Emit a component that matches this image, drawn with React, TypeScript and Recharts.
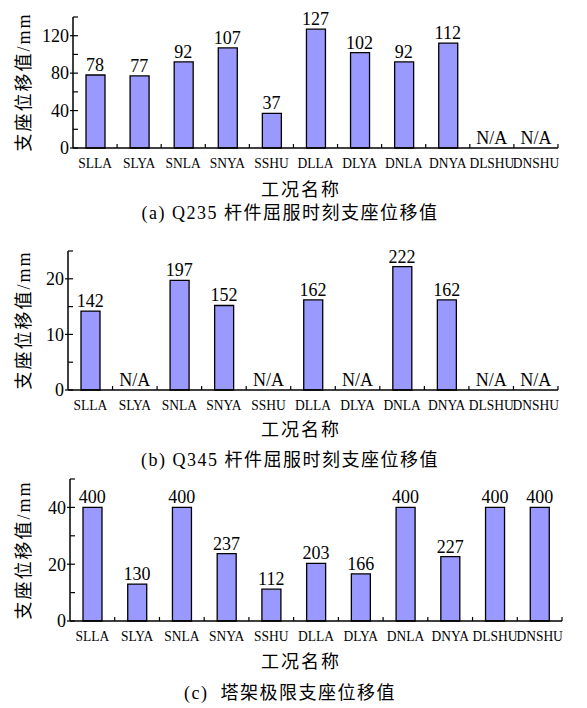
import React from 'react';
import { ComposedChart, Bar, Line, XAxis, YAxis, LabelList } from 'recharts';

// 工况名称
const categories = ['SLLA', 'SLYA', 'SNLA', 'SNYA', 'SSHU', 'DLLA', 'DLYA', 'DNLA', 'DNYA', 'DLSHU', 'DNSHU'];

// (a) Q235 杆件屈服时刻支座位移值 (N/A = 无数据)
const q235Values = [78, 77, 92, 107, 37, 127, 102, 92, 112, 0, 0];
const q235Labels = ['78', '77', '92', '107', '37', '127', '102', '92', '112', 'N/A', 'N/A'];
const q235Ticks = [0, 20, 40, 60, 80, 100, 120, 140];

// (b) Q345 杆件屈服时刻支座位移值 (bar height on axis, printed label)
const q345Values = [14.2, 0, 19.7, 15.2, 0, 16.2, 0, 22.2, 16.2, 0, 0];
const q345Labels = ['142', 'N/A', '197', '152', 'N/A', '162', 'N/A', '222', '162', 'N/A', 'N/A'];
const q345Ticks = [0, 5, 10, 15, 20, 25];

// (c) 塔架极限支座位移值
const limitValues = [40, 13, 40, 23.7, 11.2, 20.3, 16.6, 40, 22.7, 40, 40];
const limitLabels = ['400', '130', '400', '237', '112', '203', '166', '400', '227', '400', '400'];
const limitTicks = [0, 10, 20, 30, 40, 50];

const SERIF = '"Liberation Serif", "Times New Roman", serif';
const CJK = '"Liberation Serif", "Noto Sans CJK SC", serif';
const BAR_FILL = '#9999ff';

const buildRows = (values: number[], labels: string[]) =>
  categories.map((name, i) => ({ name, value: values[i], label: labels[i] }));

const makeXTick = (band: number) => (props: any) => {
  const { x, y, payload, index } = props;
  return (
    <g>
      {index > 0 && (
        <line x1={x - band / 2} x2={x - band / 2} y1={y} y2={y - 4} stroke="#000" strokeWidth={1.2} />
      )}
      {index === categories.length - 1 && (
        <line x1={x + band / 2} x2={x + band / 2} y1={y} y2={y - 4} stroke="#000" strokeWidth={1.2} />
      )}
      {/* slightly condensed, like the original */}
      <text
        transform={`translate(${x},${y + 15}) scale(0.9,1)`}
        textAnchor="middle"
        dy="0.35em"
        fontSize={15}
        fontFamily={SERIF}
        fill="#000"
      >
        {payload.value}
      </text>
    </g>
  );
};

const makeYTick = (major: number) => (props: any) => {
  const { x, y, payload } = props;
  const isMajor = payload.value % major === 0;
  return (
    <g>
      <line x1={isMajor ? x - 3 : x} x2={x + 5} y1={y} y2={y} stroke="#000" strokeWidth={1.2} />
      {isMajor && (
        <text x={x - 4} y={y} dy="0.35em" textAnchor="end" fontSize={18} fontFamily={SERIF} fill="#000">
          {payload.value}
        </text>
      )}
    </g>
  );
};

type PanelProps = {
  top: number;
  height: number;
  margin: { top: number; right: number; left: number; bottom: number };
  values: number[];
  labels: string[];
  ticks: number[];
  major: number;
  titleY: number;
  caption: string;
  captionY: number;
  ylabelY: number;
};

const textStyle = {
  position: 'absolute' as const,
  whiteSpace: 'pre' as const,
  fontFamily: CJK,
  fontSize: 18,
  lineHeight: '20px',
  color: '#000',
};

function Panel(p: PanelProps) {
  const yAxisWidth = 40;
  const plotW = 587 - p.margin.left - yAxisWidth - p.margin.right;
  const band = plotW / categories.length;
  const data = buildRows(p.values, p.labels);
  return (
    <>
      <div style={{ position: 'absolute', left: 0, top: p.top }}>
        <ComposedChart width={587} height={p.height} data={data} margin={p.margin} barSize={19}>
          <XAxis
            dataKey="name"
            height={20}
            tickSize={0}
            tickMargin={0}
            tickLine={false}
            interval={0}
            axisLine={{ stroke: '#000', strokeWidth: 1.5 }}
            tick={makeXTick(band)}
          />
          <YAxis
            width={yAxisWidth}
            domain={[0, p.ticks[p.ticks.length - 1]]}
            ticks={p.ticks}
            interval={0}
            tickSize={0}
            tickMargin={0}
            tickLine={false}
            axisLine={{ stroke: '#000', strokeWidth: 1.5 }}
            tick={makeYTick(p.major)}
          />
          <Bar dataKey="value" fill={BAR_FILL} stroke="#000" strokeWidth={1.3} isAnimationActive={false} />
          {/* invisible line that carries the printed labels, incl. N/A at the baseline */}
          <Line
            dataKey="value"
            stroke="none"
            dot={false}
            activeDot={false}
            legendType="none"
            isAnimationActive={false}
          >
            <LabelList
              dataKey="label"
              position="top"
              offset={4}
              fontSize={18}
              fontFamily={SERIF}
              fill="#000"
            />
          </Line>
        </ComposedChart>
      </div>
      <div
        style={{
          ...textStyle,
          left: 24,
          top: p.ylabelY,
          transform: 'translate(-50%, -50%) rotate(-90deg)',
          letterSpacing: 2,
        }}
      >
        支座位移值/mm
      </div>
      <div style={{ ...textStyle, left: 301, top: p.titleY, transform: 'translate(-50%, -50%)', letterSpacing: 2 }}>
        工况名称
      </div>
      <div
        style={{ ...textStyle, left: 290, top: p.captionY, transform: 'translate(-50%, -50%)', letterSpacing: 1.5 }}
      >
        {p.caption}
      </div>
    </>
  );
}

export default function App() {
  return (
    <div style={{ position: 'absolute', left: 0, top: 0, width: 587, height: 708, background: '#fff' }}>
      <Panel
        top={0}
        height={170}
        margin={{ top: 17, right: 29, left: 33, bottom: 2 }}
        values={q235Values}
        labels={q235Labels}
        ticks={q235Ticks}
        major={40}
        titleY={190}
        caption="(a) Q235 杆件屈服时刻支座位移值"
        captionY={213}
        ylabelY={82}
      />
      <Panel
        top={230}
        height={182}
        margin={{ top: 21, right: 29, left: 28, bottom: 2 }}
        values={q345Values}
        labels={q345Labels}
        ticks={q345Ticks}
        major={10}
        titleY={430}
        caption="(b) Q345 杆件屈服时刻支座位移值"
        captionY={460}
        ylabelY={320}
      />
      <Panel
        top={460}
        height={183}
        margin={{ top: 19, right: 25, left: 30, bottom: 2 }}
        values={limitValues}
        labels={limitLabels}
        ticks={limitTicks}
        major={20}
        titleY={662}
        caption="(c)  塔架极限支座位移值"
        captionY={693}
        ylabelY={550}
      />
    </div>
  );
}
